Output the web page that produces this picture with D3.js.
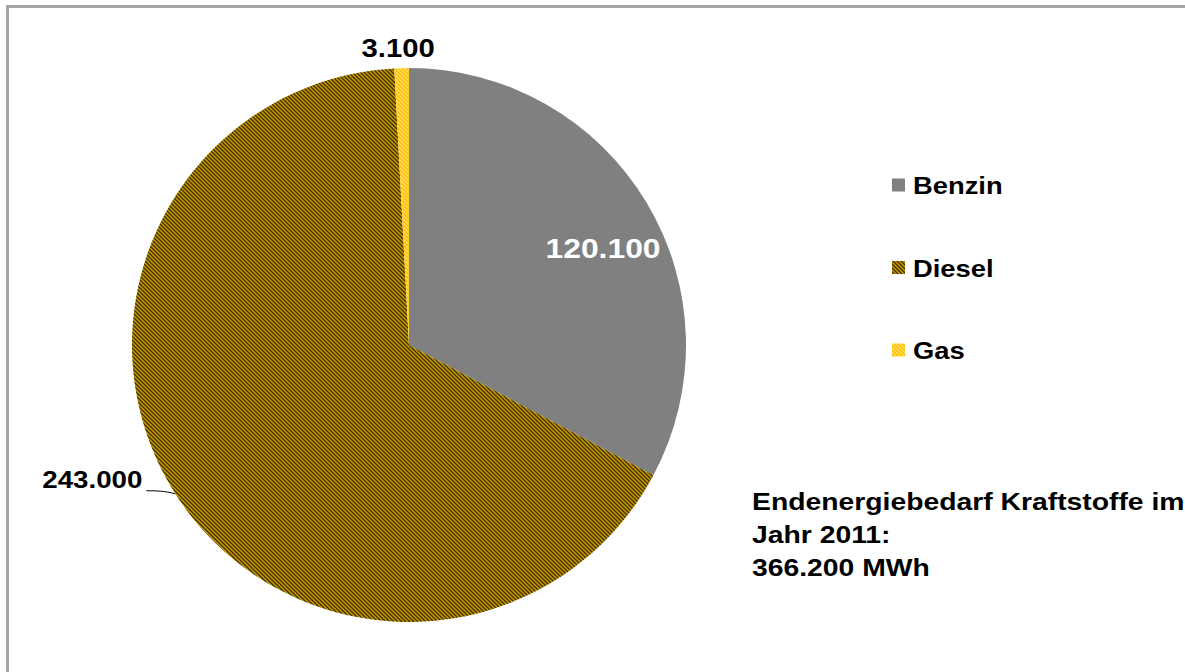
<!DOCTYPE html>
<html><head><meta charset="utf-8">
<script src="https://cdn.jsdelivr.net/npm/d3@7"></script>
<style>html,body{margin:0;padding:0;background:#fff;overflow:hidden}</style>
</head><body>
<svg id="c" width="1185" height="672"></svg>
<script>
const categories = ["Benzin", "Diesel", "Gas"];
const values = [120100, 243000, 3100];
const totalLines = ["Endenergiebedarf Kraftstoffe im", "Jahr 2011:", "366.200 MWh"];

const de = d3.formatLocale({decimal: ",", thousands: ".", grouping: [3], currency: ["", " €"]});
const fmt = de.format(",.0f");

const svg = d3.select("#c");
const W = 1185, H = 672;
svg.append("rect").attr("width", W).attr("height", H).attr("fill", "#fff");
svg.append("rect").attr("x", 7.5).attr("y", 6.5).attr("width", 1300).attr("height", 1000)
  .attr("fill", "none").attr("stroke", "#a6a6a6").attr("stroke-width", 3);

const defs = svg.append("defs");
function hatch(id, bg, fg, sw) {
  const p = defs.append("pattern").attr("id", id).attr("patternUnits", "userSpaceOnUse")
    .attr("width", 4).attr("height", 4);
  p.append("rect").attr("width", 4).attr("height", 4).attr("fill", bg);
  p.append("path").attr("d", "M-1,-1L5,5M-1,3L1,5M3,-1L5,1")
    .attr("stroke", fg).attr("stroke-width", sw);
}
hatch("hDiesel", "#c99a00", "#3d2f00", 1.3);
hatch("hGas", "#ffc000", "#ffdf66", 1.3);
const fills = ["#808080", "url(#hDiesel)", "url(#hGas)"];

const cx = 409, cy = 345, R = 277;
const pie = d3.pie().sort(null).value(d => d)(values);
const arc = d3.arc().innerRadius(0).outerRadius(R);
const g = svg.append("g").attr("transform", `translate(${cx},${cy})`);
g.selectAll("path.s").data(pie).join("path").attr("class", "s")
  .attr("d", arc).attr("fill", (d, i) => fills[i]);

const font = "'Liberation Sans', Arial, sans-serif";
function txt(parent, x, y, s, size, sx, anchor, color) {
  return parent.append("text").attr("transform", `translate(${x},${y}) scale(${sx},1)`)
    .attr("text-anchor", anchor).attr("font-family", font).attr("font-weight", "bold")
    .attr("font-size", size).attr("fill", color).text(s);
}

// Benzin label inside
const inArc = d3.arc().innerRadius(0).outerRadius(R * 1.6);
const c0 = inArc.centroid(pie[0]);
txt(g, c0[0] + 4, c0[1] + 27, fmt(values[0]), 27, 1.18, "middle", "#fff");

// Diesel label outside with leader
const mid1 = (pie[1].startAngle + pie[1].endAngle) / 2;
const e1 = [R * Math.sin(mid1), -R * Math.cos(mid1)];
g.append("path").attr("d", `M${e1[0]},${e1[1]}C${e1[0] - 12},${e1[1] - 3} ${e1[0] - 18},${e1[1] - 3} ${e1[0] - 29},${e1[1] - 3}`)
  .attr("fill", "none").attr("stroke", "#000").attr("stroke-width", 1);
txt(g, e1[0] - 33, e1[1] - 6, fmt(values[1]), 24, 1.155, "end", "#000");

// Gas label outside top
const mid2 = (pie[2].startAngle + pie[2].endAngle) / 2;
const e2 = [(R + 20) * Math.sin(mid2), -(R + 20) * Math.cos(mid2)];
txt(g, e2[0] - 3, e2[1] + 9, fmt(values[2]), 25, 1.17, "middle", "#000");

// Legend
const ly = d3.scalePoint().domain(categories).range([185, 350]);
const lg = svg.append("g");
categories.forEach((c, i) => {
  lg.append("rect").attr("x", 892).attr("y", ly(c) - 6.5).attr("width", 13).attr("height", 13)
    .attr("fill", fills[i]);
  txt(lg, 913, ly(c) + 9, c, 24, 1.14, "start", "#000");
});

// Total text
totalLines.forEach((s, i) => txt(svg, 752, 510 + i * 33, s, 24, 1.18, "start", "#000"));
</script>
</body></html>
